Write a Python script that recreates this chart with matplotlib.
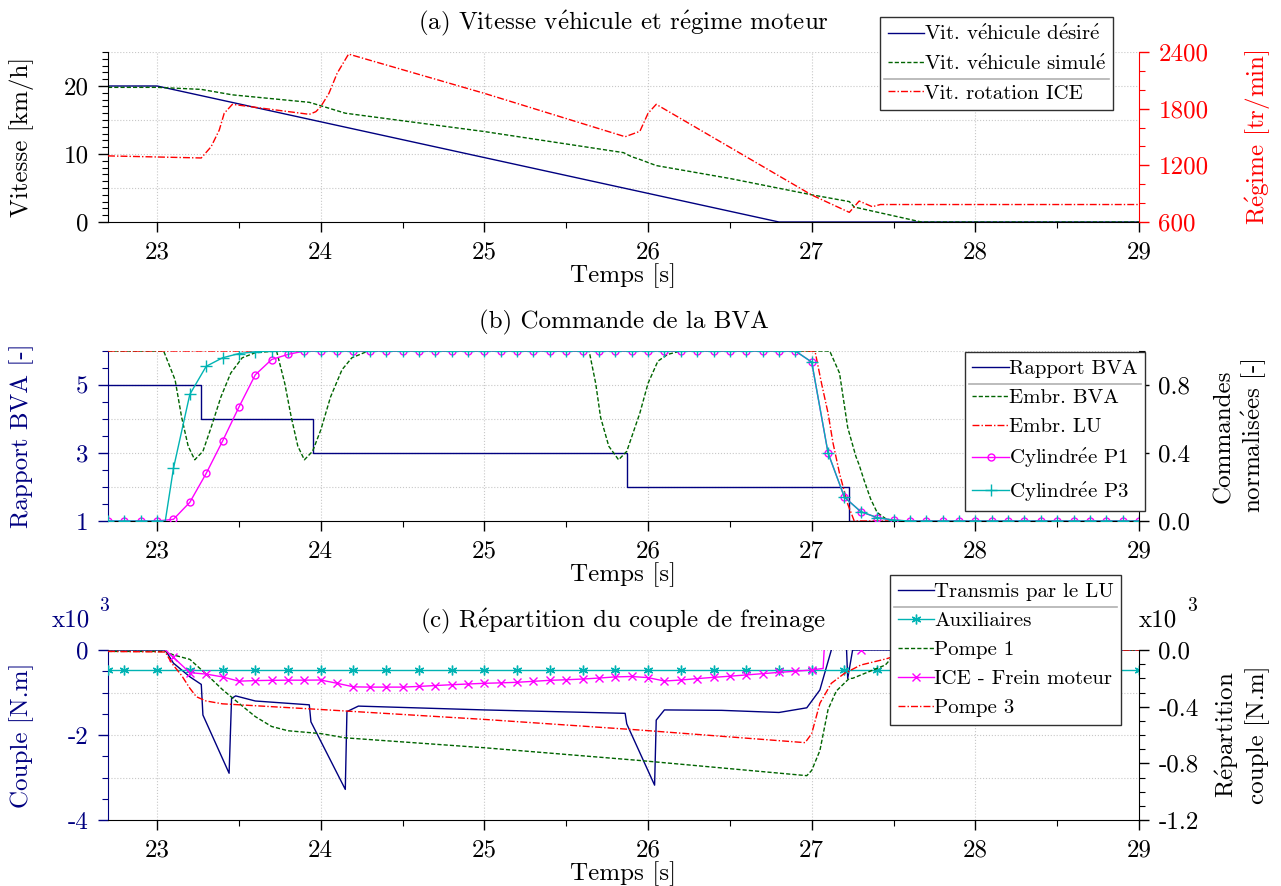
import numpy as np
import matplotlib
matplotlib.use('Agg')
import matplotlib.pyplot as plt
from matplotlib.ticker import MultipleLocator, FixedLocator
from matplotlib.lines import Line2D
from matplotlib.transforms import IdentityTransform

plt.rcParams['font.family'] = ['cmr10', 'DejaVu Serif']
plt.rcParams['axes.unicode_minus'] = False
plt.rcParams['mathtext.fontset'] = 'cm'

NAVY = '#000080'
GREEN = '#006400'
RED = '#ff0000'
MAGENTA = '#ff00ff'
TEAL = '#00b3b3'
GRID = '#c8c8c8'
FS = 18

# ---------------- (a) vitesse vehicule / regime moteur ----------------
t_des = [22.7, 23.0, 26.8, 29.0]
v_des = [20.0, 20.0, 0.0, 0.0]

t_sim = [22.7, 23.0, 23.27, 23.46, 23.93, 24.0, 24.15, 25.0, 25.85, 25.9,
         25.95, 26.05, 26.5, 27.0, 27.23, 27.26, 27.67, 29.0]
v_sim = [19.8, 19.8, 19.5, 18.7, 17.6, 17.1, 16.0, 13.3, 10.2, 9.6,
         9.2, 8.3, 6.4, 4.0, 3.0, 2.2, 0.0, 0.0]

t_ice = [22.7, 23.27, 23.33, 23.38, 23.41, 23.46, 23.93, 23.97, 24.0, 24.05,
         24.1, 24.17, 25.0, 25.86, 25.95, 26.0, 26.05, 27.0, 27.23, 27.29,
         27.37, 27.42, 29.0]
rpm_ice = [1300, 1278, 1397, 1574, 1751, 1846, 1740, 1768, 1821, 1962,
           2174, 2378, 1962, 1503, 1560, 1751, 1846, 886, 702, 822,
           762, 785, 785]

# ---------------- (b) commande de la BVA ----------------
t_gear = [22.7, 23.27, 23.27, 23.95, 23.95, 25.87, 25.87, 27.23, 27.23, 29.0]
gear = [5, 5, 4, 4, 3, 3, 2, 2, 1, 1]

t_clbva = [22.7, 23.04, 23.11, 23.15, 23.19, 23.23, 23.28, 23.33, 23.39, 23.45,
           23.52, 23.6, 23.73, 23.78, 23.82, 23.86, 23.9, 23.95, 24.0, 24.06,
           24.13, 24.19, 24.29, 25.64, 25.68, 25.71, 25.76, 25.82, 25.87, 25.95,
           26.0, 26.06, 26.12, 26.2, 27.11, 27.17, 27.22, 27.27, 27.29, 27.32,
           27.36, 27.4, 27.45, 27.5, 29.0]
clbva = [1.0, 1.0, 0.83, 0.61, 0.44, 0.36, 0.41, 0.55, 0.73, 0.87,
         0.96, 0.99, 1.0, 0.81, 0.61, 0.44, 0.36, 0.41, 0.535, 0.73,
         0.89, 0.96, 1.0, 1.0, 0.81, 0.61, 0.44, 0.36, 0.41, 0.635,
         0.81, 0.94, 0.98, 1.0, 1.0, 0.87, 0.55, 0.38, 0.33, 0.24,
         0.13, 0.05, 0.015, 0.0, 0.0]

t_cllu = [22.7, 27.02, 27.06, 27.1, 27.13, 27.17, 27.22, 27.26, 29.0]
cllu = [1.0, 1.0, 0.81, 0.634, 0.46, 0.28, 0.10, 0.0, 0.0]

t_cyl = list(np.round(np.arange(22.7, 29.01, 0.1), 1))
cyl_p1 = ([0.0, 0.0, 0.0, 0.0,
           0.01, 0.11, 0.28, 0.47, 0.67, 0.86, 0.95, 0.98, 1.0]
          + [1.0] * 30
          + [0.935, 0.40, 0.14, 0.055, 0.02, 0.005]
          + [0.0] * 15)
# P3 starts rising at 23.05 s (extra point without marker)
t_cyl3 = t_cyl[:4] + [23.05] + t_cyl[4:]
cyl_p3 = ([0.0, 0.0, 0.0, 0.0, 0.0,
           0.31, 0.745, 0.91, 0.96, 0.985, 0.995, 1.0, 1.0, 1.0]
          + [1.0] * 30
          + [0.935, 0.40, 0.14, 0.055, 0.02, 0.005]
          + [0.0] * 15)

# ---------------- (c) repartition du couple de freinage (x10^3 N.m) ----------------
t_lu = [22.7, 23.05, 23.1, 23.2, 23.27, 23.28, 23.44, 23.455, 23.48, 23.6,
        23.93, 23.94, 24.15, 24.16, 24.23, 25.0, 25.86, 25.87, 26.04, 26.05,
        26.1, 26.45, 26.8, 26.97, 27.05, 27.12, 27.15, 27.21, 27.22, 27.25, 29.0]
c_lu = [0.0, 0.0, -0.31, -0.63, -0.81, -1.53, -2.9, -1.14, -1.08, -1.2,
        -1.29, -1.69, -3.28, -1.45, -1.32, -1.41, -1.49, -1.74, -3.18, -1.65,
        -1.41, -1.42, -1.47, -1.36, -0.94, 0.0, 0.3, 0.3, -0.67, 0.0, 0.0]

t_aux = [22.7] + list(np.round(np.arange(22.8, 29.01, 0.2), 1))
c_aux = [-0.141] * len(t_aux)

t_p1 = [22.7, 23.05, 23.1, 23.2, 23.3, 23.4, 23.5, 23.6, 23.7, 23.8,
        24.0, 24.15, 25.0, 25.95, 26.97, 27.0, 27.05, 27.1, 27.15, 27.23,
        27.25, 27.35, 27.45, 27.5, 27.6, 29.0]
c_p1 = [-0.01, -0.01, -0.035, -0.066, -0.17, -0.28, -0.376, -0.47, -0.54, -0.57,
        -0.59, -0.62, -0.69, -0.78, -0.887, -0.85, -0.71, -0.42, -0.29, -0.2,
        -0.2, -0.153, -0.106, -0.04, 0.0, 0.0]

t_ice_c = ([23.05] + list(np.round(np.arange(23.1, 27.01, 0.1), 1))
           + [27.07, 27.09, 27.1, 27.2, 27.3])
c_ice = ([0.0,
          -0.052, -0.16, -0.17, -0.19, -0.22, -0.216, -0.214, -0.213, -0.213,
          -0.212, -0.235, -0.26, -0.262, -0.262, -0.262, -0.257, -0.251, -0.245, -0.24,
          -0.235, -0.232, -0.228, -0.221, -0.214, -0.21, -0.205, -0.198, -0.19, -0.187,
          -0.195, -0.219, -0.212, -0.202, -0.193, -0.185, -0.176, -0.167, -0.158, -0.15,
          -0.141]
         + [-0.13, 0.3, 0.3, 0.3, 0.0])

t_p3 = [22.7, 23.05, 23.09, 23.15, 23.2, 23.24, 23.3, 23.4, 24.0, 25.0,
        25.95, 26.96, 27.0, 27.05, 27.12, 27.2, 27.3, 27.45, 27.55, 27.65, 29.0]
c_p3 = [-0.01, -0.014, -0.094, -0.18, -0.27, -0.33, -0.36, -0.38, -0.42, -0.49,
        -0.565, -0.654, -0.59, -0.376, -0.235, -0.165, -0.106, -0.064, -0.03, 0.0, 0.0]


def fr(s):
    # cmr10 has no accented glyphs: build the e-acute with mathtext (cm fontset)
    return s.replace('é', r'$\mathrm{\acute{e}}$')


def on_grid(t):
    t = np.asarray(t) * 10
    return list(np.where(np.isclose(t, np.round(t)))[0])


def style_axes(ax, ax2, left_color, right_color, title):
    ax.set_xlim(22.7, 29)
    ax.xaxis.set_major_locator(FixedLocator([23, 24, 25, 26, 27, 28, 29]))
    ax.xaxis.set_minor_locator(MultipleLocator(0.5))
    for g in [23, 24, 25, 26, 27, 28]:
        ax.axvline(g, color=GRID, lw=0.8, ls=':', zorder=0)
    ax.spines['top'].set_visible(False)
    ax.spines['right'].set_visible(False)
    ax.spines['left'].set_color(left_color)
    ax2.spines['top'].set_visible(False)
    ax2.spines['left'].set_visible(False)
    ax2.spines['bottom'].set_visible(False)
    ax2.spines['right'].set_color(right_color)
    for a in (ax, ax2):
        a.tick_params(which='major', direction='out', length=7, width=1, labelsize=FS, pad=7)
        a.tick_params(which='minor', direction='out', length=4, width=0.8)
    ax.tick_params(axis='y', which='both', colors=left_color)
    ax.tick_params(axis='x', which='both', colors='black')
    ax2.tick_params(axis='y', which='both', colors=right_color)
    ax.set_xlabel('Temps [s]', fontsize=FS, labelpad=0)
    ax.set_title(fr(title), fontsize=FS, pad=16)
    ax.yaxis.set_label_coords(-0.072, 0.5)


def add_separator(leg, idx):
    fig.canvas.draw()
    frame = leg.get_frame().get_window_extent()
    t1 = leg.get_texts()[idx].get_window_extent()
    t2 = leg.get_texts()[idx + 1].get_window_extent()
    y = (t1.y0 + t2.y1) / 2
    fig.add_artist(Line2D([frame.x0 + 4, frame.x1 - 4], [y, y], transform=IdentityTransform(),
                          color='#b0b0b0', lw=1.2, zorder=10))


fig = plt.figure(figsize=(12.81, 8.86), dpi=100)
L, W, H = 108 / 1281, 1031 / 1281, 170 / 886

leg_kw = dict(fontsize=15, frameon=True, fancybox=False, framealpha=1, edgecolor='#303030',
              handlelength=1.75, handletextpad=0.0, borderaxespad=0, labelspacing=0.5,
              borderpad=0.36)

# panel (a)
axa = fig.add_axes([L, 1 - 222 / 886, W, H])
axa2 = axa.twinx()
style_axes(axa, axa2, 'black', RED, '(a) Vitesse véhicule et régime moteur')
for g in [5, 10, 15, 20, 25]:
    axa.axhline(g, color=GRID, lw=0.8, ls=':', zorder=0)
ha1, = axa.plot(t_des, v_des, color=NAVY, lw=1.0, label=fr('Vit. véhicule désiré'))
ha2, = axa.plot(t_sim, v_sim, color=GREEN, lw=1.0, ls=(0, (3, 1.5)), label=fr('Vit. véhicule simulé'))
ha3, = axa2.plot(t_ice, rpm_ice, color=RED, lw=1.0, ls=(0, (5, 1.5, 1, 1.5)), label='Vit. rotation ICE')
axa.set_ylim(0, 25)
axa.yaxis.set_major_locator(FixedLocator([0, 10, 20]))
axa.yaxis.set_minor_locator(MultipleLocator(1))
axa2.set_ylim(600, 2400)
axa2.yaxis.set_major_locator(FixedLocator([600, 1200, 1800, 2400]))
axa2.yaxis.set_minor_locator(MultipleLocator(200))
axa.set_ylabel('Vitesse [km/h]', fontsize=FS)
axa2.set_ylabel(fr('Régime [tr/min]'), fontsize=FS, color=RED)
axa2.yaxis.set_label_coords(1.101, 0.5)
leg_a = axa2.legend([ha1, ha2, ha3], [h.get_label() for h in (ha1, ha2, ha3)],
                    loc='upper left', bbox_to_anchor=(880 / 1281, 1 - 17 / 886),
                    bbox_transform=fig.transFigure, **leg_kw)

# panel (b)
axb = fig.add_axes([L, 1 - 521 / 886, W, H])
axb2 = axb.twinx()
style_axes(axb, axb2, NAVY, 'black', '(b) Commande de la BVA')
for g in [2, 3, 4, 5, 6]:
    axb.axhline(g, color=GRID, lw=0.8, ls=':', zorder=0)
hb1, = axb.plot(t_gear, gear, color=NAVY, lw=1.0, label='Rapport BVA')
hb2, = axb2.plot(t_clbva, clbva, color=GREEN, lw=1.0, ls=(0, (3, 1.5)), label='Embr. BVA')
hb3, = axb2.plot(t_cllu, cllu, color=RED, lw=1.0, ls=(0, (5, 1.5, 1, 1.5)), label='Embr. LU')
hb4, = axb2.plot(t_cyl, cyl_p1, color=MAGENTA, lw=1.0, marker='o', ms=5, mfc='none',
                 mew=1.0, label=fr('Cylindrée P1'))
hb5, = axb2.plot(t_cyl3, cyl_p3, color=TEAL, lw=1.0, marker='+', ms=8, mew=1.0,
                 markevery=on_grid(t_cyl3), label=fr('Cylindrée P3'))
axb.set_ylim(1, 6)
axb.yaxis.set_major_locator(FixedLocator([1, 3, 5]))
axb.yaxis.set_minor_locator(MultipleLocator(0.5))
axb2.set_ylim(0, 1)
axb2.yaxis.set_major_locator(FixedLocator([0.0, 0.4, 0.8]))
axb2.yaxis.set_minor_locator(MultipleLocator(0.1))
axb2.yaxis.set_major_formatter(lambda v, p: f'{v:.1f}')
axb.set_ylabel('Rapport BVA [-]', fontsize=FS, color=NAVY)
axb2.set_ylabel(fr('Commandes\nnormalisées [-]'), fontsize=FS)
axb2.yaxis.set_label_coords(1.072, 0.5)
hb = [hb1, hb2, hb3, hb4, hb5]
leg_b = axb2.legend(hb, [h.get_label() for h in hb], loc='upper left',
                    bbox_to_anchor=(965 / 1281, 1 - 352 / 886),
                    bbox_transform=fig.transFigure, **leg_kw)

# panel (c)
axc = fig.add_axes([L, 1 - 820 / 886, W, H])
axc2 = axc.twinx()
style_axes(axc, axc2, NAVY, 'black', '(c) Répartition du couple de freinage')
for g in [-3, -2, -1, 0]:
    axc.axhline(g, color=GRID, lw=0.8, ls=':', zorder=0)
hc1, = axc.plot(t_lu, c_lu, color=NAVY, lw=1.0, label='Transmis par le LU')
hc2, = axc2.plot(t_aux, c_aux, color=TEAL, lw=1.0, marker=(6, 2, 0), ms=7, mew=1.0,
                 label='Auxiliaires')
hc3, = axc2.plot(t_p1, c_p1, color=GREEN, lw=1.0, ls=(0, (3, 1.5)), label='Pompe 1')
hc4, = axc2.plot(t_ice_c, c_ice, color=MAGENTA, lw=1.0, marker='x', ms=6, mew=1.0,
                 markevery=on_grid(t_ice_c), label='ICE - Frein moteur')
hc5, = axc2.plot(t_p3, c_p3, color=RED, lw=1.0, ls=(0, (5, 1.5, 1, 1.5)), label='Pompe 3')
axc.set_ylim(-4, 0)
axc.yaxis.set_major_locator(FixedLocator([-4, -2, 0]))
axc.yaxis.set_minor_locator(MultipleLocator(0.5))
axc2.set_ylim(-1.2, 0)
axc2.yaxis.set_major_locator(FixedLocator([-1.2, -0.8, -0.4, 0.0]))
axc2.yaxis.set_minor_locator(MultipleLocator(0.1))
axc2.yaxis.set_major_formatter(lambda v, p: f'{v:.1f}')
axc.set_ylabel('Couple [N.m]', fontsize=FS, color=NAVY)
axc2.set_ylabel(fr('Répartition\ncouple [N.m]'), fontsize=FS)
axc2.yaxis.set_label_coords(1.072, 0.5)
hc = [hc1, hc2, hc3, hc4, hc5]
leg_c = axc2.legend(hc, [h.get_label() for h in hc], loc='upper left',
                    bbox_to_anchor=(890 / 1281, 1 - 575 / 886),
                    bbox_transform=fig.transFigure, **leg_kw)

fig.text(52 / 1281, 1 - 620 / 886, 'x10', fontsize=FS, color=NAVY, va='center')
fig.text(99 / 1281, 1 - 606 / 886, '3', fontsize=14, color=NAVY, va='center')
fig.text(1139 / 1281, 1 - 620 / 886, 'x10', fontsize=FS, color='black', va='center')
fig.text(1187 / 1281, 1 - 606 / 886, '3', fontsize=14, color='black', va='center')

add_separator(leg_a, 1)
add_separator(leg_b, 0)
add_separator(leg_c, 0)

fig.savefig('out.png', dpi=100)
